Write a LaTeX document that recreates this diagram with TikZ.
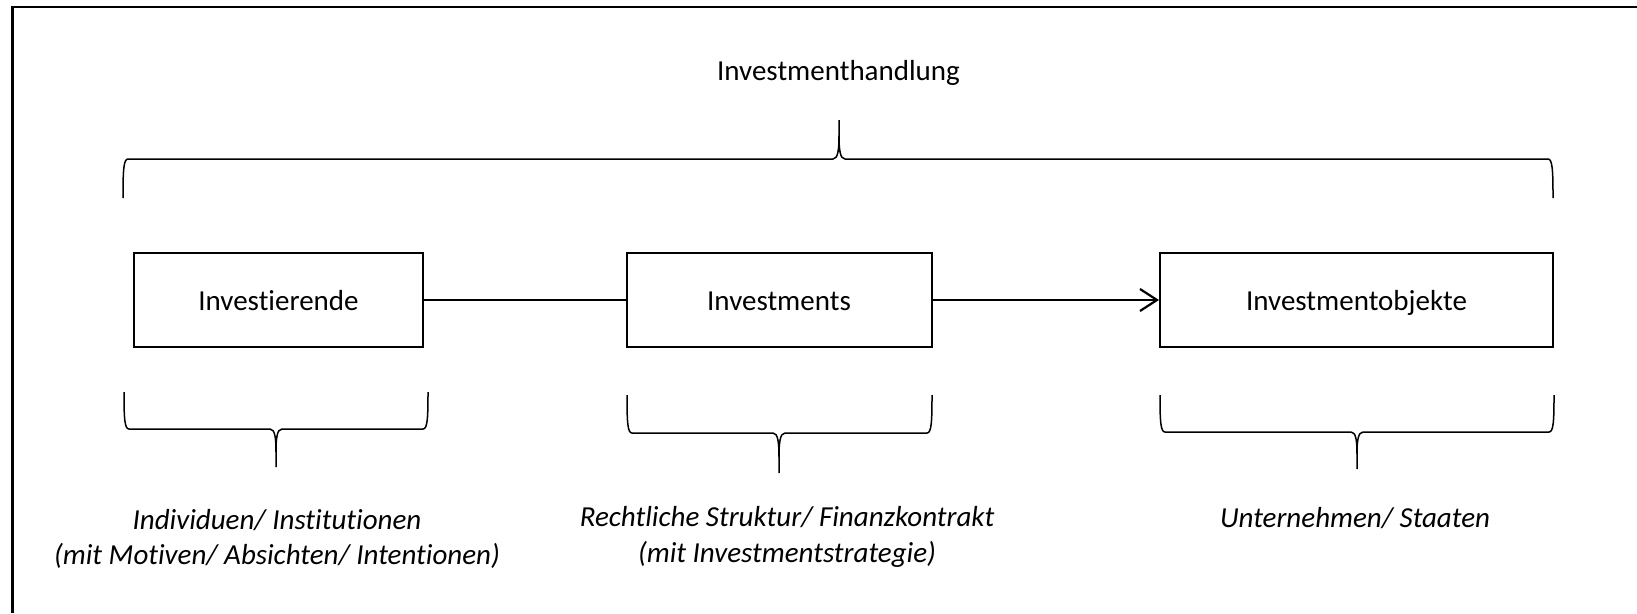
\documentclass[tikz,border=0pt]{standalone}
\usepackage{fontspec}
\setmainfont{Carlito}[Ligatures={NoCommon}]
\usetikzlibrary{arrows.meta}
% #1 x left, #2 x right, #3 x tip, #4 y ends, #5 y horizontal, #6 y tip
\newcommand\curlybr[6]{%
  \draw[bracel] (#1,#4) .. controls (#1,{#5+0.3*(#4-#5)}) and (#1+0.5,#5) .. (#1+5,#5)
    -- (#3-6,#5) .. controls (#3-1,#5) and (#3,{#5+0.25*(#6-#5)}) .. (#3,{#5+0.6*(#6-#5)})
    -- (#3,#6);
  \draw[bracel] (#3,{#5+0.6*(#6-#5)}) .. controls (#3,{#5+0.25*(#6-#5)}) and (#3+1,#5) .. (#3+6,#5)
    -- (#2-5,#5) .. controls (#2-0.5,#5) and (#2,{#5+0.3*(#4-#5)}) .. (#2,#4);
}
\begin{document}
\begin{tikzpicture}[x=1pt,y=-1pt,
  bracel/.style={line width=1.5pt},
  boxnode/.style={draw, line width=2pt, minimum height=94pt, inner sep=0pt,
    text height=21pt, text depth=0pt,
    font=\fontsize{29}{35.4}\selectfont},
  lbl/.style={font=\fontsize{29}{35.4}\selectfont, inner sep=0pt},
  ilbl/.style={font=\fontsize{29}{35.4}\selectfont\itshape, align=center, inner sep=0pt},
  conn/.style={line width=2pt}]
\useasboundingbox (0,0) rectangle (1637,613);
\fill[white] (0,0) rectangle (1637,613);
% frame (top and left edges visible)
\draw[line width=2.2pt] (12.5,613) -- (12.5,7) -- (1637,7);

\node[lbl, anchor=base] (title) at (838.5,80) {Investmenthandlung};
\curlybr{123}{1553}{839}{198}{159}{120}

\node[boxnode, minimum width=289pt] (b1) at (278.5,300) {Investierende};
\node[boxnode, minimum width=305pt] (b2) at (779,300) {Investments};
\node[boxnode, minimum width=393pt] (b3) at (1356.5,300) {Investmentobjekte};

\draw[conn] (b1.east) -- (b2.west);
\draw[conn, -{Straight Barb[length=17pt,width=22pt,line width=2.2pt]}] (b2.east) -- (b3.west);

\curlybr{124}{428}{276}{392}{429}{467}
\curlybr{627}{932}{779}{395}{433}{473}
\curlybr{1160}{1554}{1357}{395}{432}{469}

\node[ilbl] (t1) at (277,539) {Individuen/ Institutionen\\(mit Motiven/ Absichten/ Intentionen)};
\node[ilbl] (t2) at (787,537) {Rechtliche Struktur/ Finanzkontrakt\\(mit Investmentstrategie)};
\node[ilbl, anchor=base] (t3) at (1355,527) {Unternehmen/ Staaten};
\end{tikzpicture}
\end{document}
